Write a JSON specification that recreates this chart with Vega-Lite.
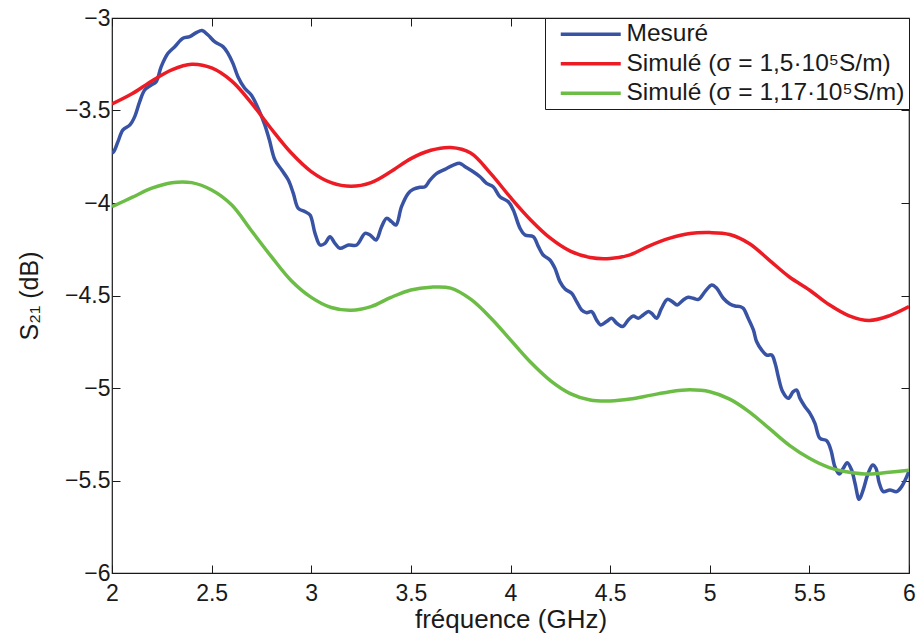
{
  "$schema": "https://vega.github.io/schema/vega-lite/v6.json",
  "width": 797,
  "height": 555,
  "autosize": {"type": "none"},
  "padding": {"left": 112, "top": 18, "right": 10, "bottom": 61},
  "background": "white",
  "config": {"view": {"stroke": "#1a1a1a", "strokeWidth": 1.2}, "font": "Liberation Sans"},
  "datasets": {
    "curves": [
      {"f": 2.000, "v": -3.73, "series": "Mesuré"},
      {"f": 2.010, "v": -3.72, "series": "Mesuré"},
      {"f": 2.030, "v": -3.668, "series": "Mesuré"},
      {"f": 2.055, "v": -3.605, "series": "Mesuré"},
      {"f": 2.090, "v": -3.578, "series": "Mesuré"},
      {"f": 2.114, "v": -3.533, "series": "Mesuré"},
      {"f": 2.139, "v": -3.452, "series": "Mesuré"},
      {"f": 2.164, "v": -3.389, "series": "Mesuré"},
      {"f": 2.197, "v": -3.362, "series": "Mesuré"},
      {"f": 2.222, "v": -3.344, "series": "Mesuré"},
      {"f": 2.247, "v": -3.263, "series": "Mesuré"},
      {"f": 2.281, "v": -3.191, "series": "Mesuré"},
      {"f": 2.315, "v": -3.155, "series": "Mesuré"},
      {"f": 2.356, "v": -3.110, "series": "Mesuré"},
      {"f": 2.390, "v": -3.101, "series": "Mesuré"},
      {"f": 2.423, "v": -3.079, "series": "Mesuré"},
      {"f": 2.452, "v": -3.068, "series": "Mesuré"},
      {"f": 2.482, "v": -3.092, "series": "Mesuré"},
      {"f": 2.515, "v": -3.128, "series": "Mesuré"},
      {"f": 2.557, "v": -3.155, "series": "Mesuré"},
      {"f": 2.582, "v": -3.191, "series": "Mesuré"},
      {"f": 2.607, "v": -3.245, "series": "Mesuré"},
      {"f": 2.632, "v": -3.317, "series": "Mesuré"},
      {"f": 2.666, "v": -3.380, "series": "Mesuré"},
      {"f": 2.699, "v": -3.416, "series": "Mesuré"},
      {"f": 2.733, "v": -3.488, "series": "Mesuré"},
      {"f": 2.766, "v": -3.575, "series": "Mesuré"},
      {"f": 2.790, "v": -3.66, "series": "Mesuré"},
      {"f": 2.818, "v": -3.768, "series": "Mesuré"},
      {"f": 2.852, "v": -3.822, "series": "Mesuré"},
      {"f": 2.885, "v": -3.876, "series": "Mesuré"},
      {"f": 2.910, "v": -3.948, "series": "Mesuré"},
      {"f": 2.935, "v": -4.029, "series": "Mesuré"},
      {"f": 2.969, "v": -4.047, "series": "Mesuré"},
      {"f": 2.994, "v": -4.065, "series": "Mesuré"},
      {"f": 3.019, "v": -4.164, "series": "Mesuré"},
      {"f": 3.044, "v": -4.227, "series": "Mesuré"},
      {"f": 3.069, "v": -4.218, "series": "Mesuré"},
      {"f": 3.094, "v": -4.182, "series": "Mesuré"},
      {"f": 3.119, "v": -4.218, "series": "Mesuré"},
      {"f": 3.144, "v": -4.245, "series": "Mesuré"},
      {"f": 3.186, "v": -4.227, "series": "Mesuré"},
      {"f": 3.228, "v": -4.227, "series": "Mesuré"},
      {"f": 3.270, "v": -4.164, "series": "Mesuré"},
      {"f": 3.295, "v": -4.173, "series": "Mesuré"},
      {"f": 3.325, "v": -4.200, "series": "Mesuré"},
      {"f": 3.353, "v": -4.128, "series": "Mesuré"},
      {"f": 3.378, "v": -4.083, "series": "Mesuré"},
      {"f": 3.403, "v": -4.101, "series": "Mesuré"},
      {"f": 3.425, "v": -4.119, "series": "Mesuré"},
      {"f": 3.453, "v": -4.020, "series": "Mesuré"},
      {"f": 3.487, "v": -3.948, "series": "Mesuré"},
      {"f": 3.512, "v": -3.926, "series": "Mesuré"},
      {"f": 3.546, "v": -3.915, "series": "Mesuré"},
      {"f": 3.571, "v": -3.912, "series": "Mesuré"},
      {"f": 3.596, "v": -3.876, "series": "Mesuré"},
      {"f": 3.630, "v": -3.840, "series": "Mesuré"},
      {"f": 3.671, "v": -3.818, "series": "Mesuré"},
      {"f": 3.713, "v": -3.795, "series": "Mesuré"},
      {"f": 3.747, "v": -3.786, "series": "Mesuré"},
      {"f": 3.772, "v": -3.804, "series": "Mesuré"},
      {"f": 3.813, "v": -3.831, "series": "Mesuré"},
      {"f": 3.847, "v": -3.858, "series": "Mesuré"},
      {"f": 3.880, "v": -3.894, "series": "Mesuré"},
      {"f": 3.913, "v": -3.912, "series": "Mesuré"},
      {"f": 3.947, "v": -3.966, "series": "Mesuré"},
      {"f": 3.989, "v": -3.993, "series": "Mesuré"},
      {"f": 4.014, "v": -4.038, "series": "Mesuré"},
      {"f": 4.048, "v": -4.137, "series": "Mesuré"},
      {"f": 4.073, "v": -4.173, "series": "Mesuré"},
      {"f": 4.114, "v": -4.182, "series": "Mesuré"},
      {"f": 4.140, "v": -4.236, "series": "Mesuré"},
      {"f": 4.164, "v": -4.281, "series": "Mesuré"},
      {"f": 4.198, "v": -4.308, "series": "Mesuré"},
      {"f": 4.223, "v": -4.353, "series": "Mesuré"},
      {"f": 4.248, "v": -4.425, "series": "Mesuré"},
      {"f": 4.274, "v": -4.465, "series": "Mesuré"},
      {"f": 4.307, "v": -4.488, "series": "Mesuré"},
      {"f": 4.332, "v": -4.533, "series": "Mesuré"},
      {"f": 4.357, "v": -4.578, "series": "Mesuré"},
      {"f": 4.382, "v": -4.593, "series": "Mesuré"},
      {"f": 4.407, "v": -4.587, "series": "Mesuré"},
      {"f": 4.432, "v": -4.632, "series": "Mesuré"},
      {"f": 4.452, "v": -4.659, "series": "Mesuré"},
      {"f": 4.482, "v": -4.641, "series": "Mesuré"},
      {"f": 4.508, "v": -4.623, "series": "Mesuré"},
      {"f": 4.533, "v": -4.650, "series": "Mesuré"},
      {"f": 4.563, "v": -4.668, "series": "Mesuré"},
      {"f": 4.591, "v": -4.632, "series": "Mesuré"},
      {"f": 4.616, "v": -4.611, "series": "Mesuré"},
      {"f": 4.641, "v": -4.623, "series": "Mesuré"},
      {"f": 4.666, "v": -4.605, "series": "Mesuré"},
      {"f": 4.692, "v": -4.587, "series": "Mesuré"},
      {"f": 4.708, "v": -4.596, "series": "Mesuré"},
      {"f": 4.733, "v": -4.623, "series": "Mesuré"},
      {"f": 4.758, "v": -4.569, "series": "Mesuré"},
      {"f": 4.787, "v": -4.521, "series": "Mesuré"},
      {"f": 4.812, "v": -4.533, "series": "Mesuré"},
      {"f": 4.837, "v": -4.551, "series": "Mesuré"},
      {"f": 4.867, "v": -4.524, "series": "Mesuré"},
      {"f": 4.892, "v": -4.510, "series": "Mesuré"},
      {"f": 4.917, "v": -4.515, "series": "Mesuré"},
      {"f": 4.943, "v": -4.521, "series": "Mesuré"},
      {"f": 4.976, "v": -4.479, "series": "Mesuré"},
      {"f": 5.010, "v": -4.443, "series": "Mesuré"},
      {"f": 5.035, "v": -4.461, "series": "Mesuré"},
      {"f": 5.068, "v": -4.515, "series": "Mesuré"},
      {"f": 5.101, "v": -4.546, "series": "Mesuré"},
      {"f": 5.127, "v": -4.557, "series": "Mesuré"},
      {"f": 5.152, "v": -4.560, "series": "Mesuré"},
      {"f": 5.168, "v": -4.569, "series": "Mesuré"},
      {"f": 5.193, "v": -4.623, "series": "Mesuré"},
      {"f": 5.219, "v": -4.686, "series": "Mesuré"},
      {"f": 5.235, "v": -4.749, "series": "Mesuré"},
      {"f": 5.261, "v": -4.795, "series": "Mesuré"},
      {"f": 5.286, "v": -4.822, "series": "Mesuré"},
      {"f": 5.311, "v": -4.822, "series": "Mesuré"},
      {"f": 5.328, "v": -4.866, "series": "Mesuré"},
      {"f": 5.344, "v": -4.939, "series": "Mesuré"},
      {"f": 5.366, "v": -5.020, "series": "Mesuré"},
      {"f": 5.394, "v": -5.056, "series": "Mesuré"},
      {"f": 5.419, "v": -5.020, "series": "Mesuré"},
      {"f": 5.436, "v": -5.011, "series": "Mesuré"},
      {"f": 5.453, "v": -5.056, "series": "Mesuré"},
      {"f": 5.478, "v": -5.101, "series": "Mesuré"},
      {"f": 5.503, "v": -5.137, "series": "Mesuré"},
      {"f": 5.528, "v": -5.191, "series": "Mesuré"},
      {"f": 5.553, "v": -5.272, "series": "Mesuré"},
      {"f": 5.587, "v": -5.285, "series": "Mesuré"},
      {"f": 5.608, "v": -5.335, "series": "Mesuré"},
      {"f": 5.628, "v": -5.425, "series": "Mesuré"},
      {"f": 5.650, "v": -5.465, "series": "Mesuré"},
      {"f": 5.670, "v": -5.434, "series": "Mesuré"},
      {"f": 5.690, "v": -5.404, "series": "Mesuré"},
      {"f": 5.712, "v": -5.443, "series": "Mesuré"},
      {"f": 5.729, "v": -5.515, "series": "Mesuré"},
      {"f": 5.750, "v": -5.602, "series": "Mesuré"},
      {"f": 5.770, "v": -5.551, "series": "Mesuré"},
      {"f": 5.795, "v": -5.461, "series": "Mesuré"},
      {"f": 5.818, "v": -5.416, "series": "Mesuré"},
      {"f": 5.834, "v": -5.434, "series": "Mesuré"},
      {"f": 5.851, "v": -5.515, "series": "Mesuré"},
      {"f": 5.871, "v": -5.560, "series": "Mesuré"},
      {"f": 5.904, "v": -5.551, "series": "Mesuré"},
      {"f": 5.938, "v": -5.560, "series": "Mesuré"},
      {"f": 5.963, "v": -5.533, "series": "Mesuré"},
      {"f": 5.985, "v": -5.488, "series": "Mesuré"},
      {"f": 6.000, "v": -5.450, "series": "Mesuré"},

      {"f": 2.0, "v": -3.465, "series": "Simulé (σ = 1,5·10⁵S/m)"},
      {"f": 2.1, "v": -3.41, "series": "Simulé (σ = 1,5·10⁵S/m)"},
      {"f": 2.2, "v": -3.34, "series": "Simulé (σ = 1,5·10⁵S/m)"},
      {"f": 2.3, "v": -3.28, "series": "Simulé (σ = 1,5·10⁵S/m)"},
      {"f": 2.4, "v": -3.25, "series": "Simulé (σ = 1,5·10⁵S/m)"},
      {"f": 2.5, "v": -3.27, "series": "Simulé (σ = 1,5·10⁵S/m)"},
      {"f": 2.6, "v": -3.34, "series": "Simulé (σ = 1,5·10⁵S/m)"},
      {"f": 2.7, "v": -3.46, "series": "Simulé (σ = 1,5·10⁵S/m)"},
      {"f": 2.8, "v": -3.60, "series": "Simulé (σ = 1,5·10⁵S/m)"},
      {"f": 2.9, "v": -3.73, "series": "Simulé (σ = 1,5·10⁵S/m)"},
      {"f": 3.0, "v": -3.83, "series": "Simulé (σ = 1,5·10⁵S/m)"},
      {"f": 3.1, "v": -3.89, "series": "Simulé (σ = 1,5·10⁵S/m)"},
      {"f": 3.2, "v": -3.91, "series": "Simulé (σ = 1,5·10⁵S/m)"},
      {"f": 3.3, "v": -3.89, "series": "Simulé (σ = 1,5·10⁵S/m)"},
      {"f": 3.4, "v": -3.83, "series": "Simulé (σ = 1,5·10⁵S/m)"},
      {"f": 3.5, "v": -3.76, "series": "Simulé (σ = 1,5·10⁵S/m)"},
      {"f": 3.6, "v": -3.715, "series": "Simulé (σ = 1,5·10⁵S/m)"},
      {"f": 3.7, "v": -3.70, "series": "Simulé (σ = 1,5·10⁵S/m)"},
      {"f": 3.8, "v": -3.73, "series": "Simulé (σ = 1,5·10⁵S/m)"},
      {"f": 3.9, "v": -3.84, "series": "Simulé (σ = 1,5·10⁵S/m)"},
      {"f": 4.0, "v": -3.97, "series": "Simulé (σ = 1,5·10⁵S/m)"},
      {"f": 4.1, "v": -4.09, "series": "Simulé (σ = 1,5·10⁵S/m)"},
      {"f": 4.2, "v": -4.19, "series": "Simulé (σ = 1,5·10⁵S/m)"},
      {"f": 4.3, "v": -4.26, "series": "Simulé (σ = 1,5·10⁵S/m)"},
      {"f": 4.4, "v": -4.295, "series": "Simulé (σ = 1,5·10⁵S/m)"},
      {"f": 4.5, "v": -4.30, "series": "Simulé (σ = 1,5·10⁵S/m)"},
      {"f": 4.6, "v": -4.28, "series": "Simulé (σ = 1,5·10⁵S/m)"},
      {"f": 4.7, "v": -4.23, "series": "Simulé (σ = 1,5·10⁵S/m)"},
      {"f": 4.8, "v": -4.19, "series": "Simulé (σ = 1,5·10⁵S/m)"},
      {"f": 4.9, "v": -4.165, "series": "Simulé (σ = 1,5·10⁵S/m)"},
      {"f": 5.0, "v": -4.16, "series": "Simulé (σ = 1,5·10⁵S/m)"},
      {"f": 5.1, "v": -4.17, "series": "Simulé (σ = 1,5·10⁵S/m)"},
      {"f": 5.2, "v": -4.22, "series": "Simulé (σ = 1,5·10⁵S/m)"},
      {"f": 5.3, "v": -4.31, "series": "Simulé (σ = 1,5·10⁵S/m)"},
      {"f": 5.4, "v": -4.40, "series": "Simulé (σ = 1,5·10⁵S/m)"},
      {"f": 5.5, "v": -4.47, "series": "Simulé (σ = 1,5·10⁵S/m)"},
      {"f": 5.6, "v": -4.55, "series": "Simulé (σ = 1,5·10⁵S/m)"},
      {"f": 5.7, "v": -4.61, "series": "Simulé (σ = 1,5·10⁵S/m)"},
      {"f": 5.8, "v": -4.635, "series": "Simulé (σ = 1,5·10⁵S/m)"},
      {"f": 5.9, "v": -4.61, "series": "Simulé (σ = 1,5·10⁵S/m)"},
      {"f": 6.0, "v": -4.56, "series": "Simulé (σ = 1,5·10⁵S/m)"},

      {"f": 2.0, "v": -4.02, "series": "Simulé (σ = 1,17·10⁵S/m)"},
      {"f": 2.1, "v": -3.97, "series": "Simulé (σ = 1,17·10⁵S/m)"},
      {"f": 2.2, "v": -3.92, "series": "Simulé (σ = 1,17·10⁵S/m)"},
      {"f": 2.3, "v": -3.89, "series": "Simulé (σ = 1,17·10⁵S/m)"},
      {"f": 2.4, "v": -3.89, "series": "Simulé (σ = 1,17·10⁵S/m)"},
      {"f": 2.5, "v": -3.93, "series": "Simulé (σ = 1,17·10⁵S/m)"},
      {"f": 2.6, "v": -4.01, "series": "Simulé (σ = 1,17·10⁵S/m)"},
      {"f": 2.7, "v": -4.15, "series": "Simulé (σ = 1,17·10⁵S/m)"},
      {"f": 2.8, "v": -4.29, "series": "Simulé (σ = 1,17·10⁵S/m)"},
      {"f": 2.9, "v": -4.42, "series": "Simulé (σ = 1,17·10⁵S/m)"},
      {"f": 3.0, "v": -4.51, "series": "Simulé (σ = 1,17·10⁵S/m)"},
      {"f": 3.1, "v": -4.565, "series": "Simulé (σ = 1,17·10⁵S/m)"},
      {"f": 3.2, "v": -4.58, "series": "Simulé (σ = 1,17·10⁵S/m)"},
      {"f": 3.3, "v": -4.56, "series": "Simulé (σ = 1,17·10⁵S/m)"},
      {"f": 3.4, "v": -4.51, "series": "Simulé (σ = 1,17·10⁵S/m)"},
      {"f": 3.5, "v": -4.47, "series": "Simulé (σ = 1,17·10⁵S/m)"},
      {"f": 3.6, "v": -4.455, "series": "Simulé (σ = 1,17·10⁵S/m)"},
      {"f": 3.7, "v": -4.46, "series": "Simulé (σ = 1,17·10⁵S/m)"},
      {"f": 3.8, "v": -4.52, "series": "Simulé (σ = 1,17·10⁵S/m)"},
      {"f": 3.9, "v": -4.62, "series": "Simulé (σ = 1,17·10⁵S/m)"},
      {"f": 4.0, "v": -4.74, "series": "Simulé (σ = 1,17·10⁵S/m)"},
      {"f": 4.1, "v": -4.86, "series": "Simulé (σ = 1,17·10⁵S/m)"},
      {"f": 4.2, "v": -4.96, "series": "Simulé (σ = 1,17·10⁵S/m)"},
      {"f": 4.3, "v": -5.03, "series": "Simulé (σ = 1,17·10⁵S/m)"},
      {"f": 4.4, "v": -5.065, "series": "Simulé (σ = 1,17·10⁵S/m)"},
      {"f": 4.5, "v": -5.07, "series": "Simulé (σ = 1,17·10⁵S/m)"},
      {"f": 4.6, "v": -5.06, "series": "Simulé (σ = 1,17·10⁵S/m)"},
      {"f": 4.7, "v": -5.04, "series": "Simulé (σ = 1,17·10⁵S/m)"},
      {"f": 4.8, "v": -5.02, "series": "Simulé (σ = 1,17·10⁵S/m)"},
      {"f": 4.9, "v": -5.01, "series": "Simulé (σ = 1,17·10⁵S/m)"},
      {"f": 5.0, "v": -5.02, "series": "Simulé (σ = 1,17·10⁵S/m)"},
      {"f": 5.1, "v": -5.06, "series": "Simulé (σ = 1,17·10⁵S/m)"},
      {"f": 5.2, "v": -5.13, "series": "Simulé (σ = 1,17·10⁵S/m)"},
      {"f": 5.3, "v": -5.22, "series": "Simulé (σ = 1,17·10⁵S/m)"},
      {"f": 5.4, "v": -5.31, "series": "Simulé (σ = 1,17·10⁵S/m)"},
      {"f": 5.5, "v": -5.38, "series": "Simulé (σ = 1,17·10⁵S/m)"},
      {"f": 5.6, "v": -5.43, "series": "Simulé (σ = 1,17·10⁵S/m)"},
      {"f": 5.7, "v": -5.455, "series": "Simulé (σ = 1,17·10⁵S/m)"},
      {"f": 5.8, "v": -5.465, "series": "Simulé (σ = 1,17·10⁵S/m)"},
      {"f": 5.9, "v": -5.455, "series": "Simulé (σ = 1,17·10⁵S/m)"},
      {"f": 6.0, "v": -5.445, "series": "Simulé (σ = 1,17·10⁵S/m)"}
    ]
  },
  "data": {"name": "curves"},
  "layer": [
    {
      "mark": {"type": "line", "interpolate": "catmull-rom", "strokeWidth": 3.5, "clip": true},
      "encoding": {
        "x": {
          "field": "f", "type": "quantitative",
          "scale": {"domain": [2, 6], "nice": false, "zero": false},
          "axis": {
            "orient": "bottom", "values": [2, 2.5, 3, 3.5, 4, 4.5, 5, 5.5, 6], "format": "~g",
            "domain": false, "grid": false, "tickSize": -8, "tickColor": "#1a1a1a", "tickWidth": 1,
            "labelPadding": 17, "labelFontSize": 23, "labelColor": "#1a1a1a", "labelFlush": false, "labelOverlap": false,
            "title": "fréquence (GHz)", "titleFontSize": 26, "titleFontWeight": "normal", "titleColor": "#1a1a1a", "titlePadding": 1
          }
        },
        "y": {
          "field": "v", "type": "quantitative",
          "scale": {"domain": [-6, -3], "nice": false, "zero": false},
          "axis": {
            "orient": "left", "values": [-6, -5.5, -5, -4.5, -4, -3.5, -3], "format": "~g",
            "domain": false, "grid": false, "tickSize": -8, "tickColor": "#1a1a1a", "tickWidth": 1,
            "labelPadding": 10, "labelFontSize": 23, "labelColor": "#1a1a1a", "labelFlush": false, "labelOverlap": false,
            "title": "S₂₁ (dB)", "titleFontSize": 25, "titleFontWeight": "normal", "titleColor": "#1a1a1a", "titlePadding": 22
          }
        },
        "color": {
          "field": "series", "type": "nominal",
          "scale": {
            "domain": ["Mesuré", "Simulé (σ = 1,5·10⁵S/m)", "Simulé (σ = 1,17·10⁵S/m)"],
            "range": ["#3953a4", "#ed1c24", "#6cbd45"]
          },
          "legend": {
            "orient": "top-right", "offset": 0, "title": null,
            "strokeColor": "#1a1a1a", "fillColor": "white", "padding": 4, "cornerRadius": 0,
            "symbolType": "M-3,0H3", "symbolSize": 400, "symbolStrokeWidth": 3.5, "symbolOffset": 29.5,
            "labelOffset": 23.5, "labelFontSize": 24.5, "labelColor": "#1a1a1a", "labelLimit": 500, "rowPadding": 4.5
          }
        }
      }
    },
    {
      "mark": {"type": "line", "opacity": 0},
      "encoding": {
        "x": {
          "field": "f", "type": "quantitative",
          "scale": {"domain": [2, 6], "nice": false, "zero": false},
          "axis": {
            "orient": "top", "values": [2, 2.5, 3, 3.5, 4, 4.5, 5, 5.5, 6], "labels": false, "title": null,
            "domain": false, "grid": false, "tickSize": -8, "tickColor": "#1a1a1a", "tickWidth": 1
          }
        },
        "y": {
          "field": "v", "type": "quantitative",
          "scale": {"domain": [-6, -3], "nice": false, "zero": false},
          "axis": {
            "orient": "right", "values": [-6, -5.5, -5, -4.5, -4, -3.5, -3], "labels": false, "title": null,
            "domain": false, "grid": false, "tickSize": -8, "tickColor": "#1a1a1a", "tickWidth": 1
          }
        },
        "detail": {"field": "series", "type": "nominal"}
      }
    }
  ],
  "resolve": {"axis": {"x": "independent", "y": "independent"}}
}
